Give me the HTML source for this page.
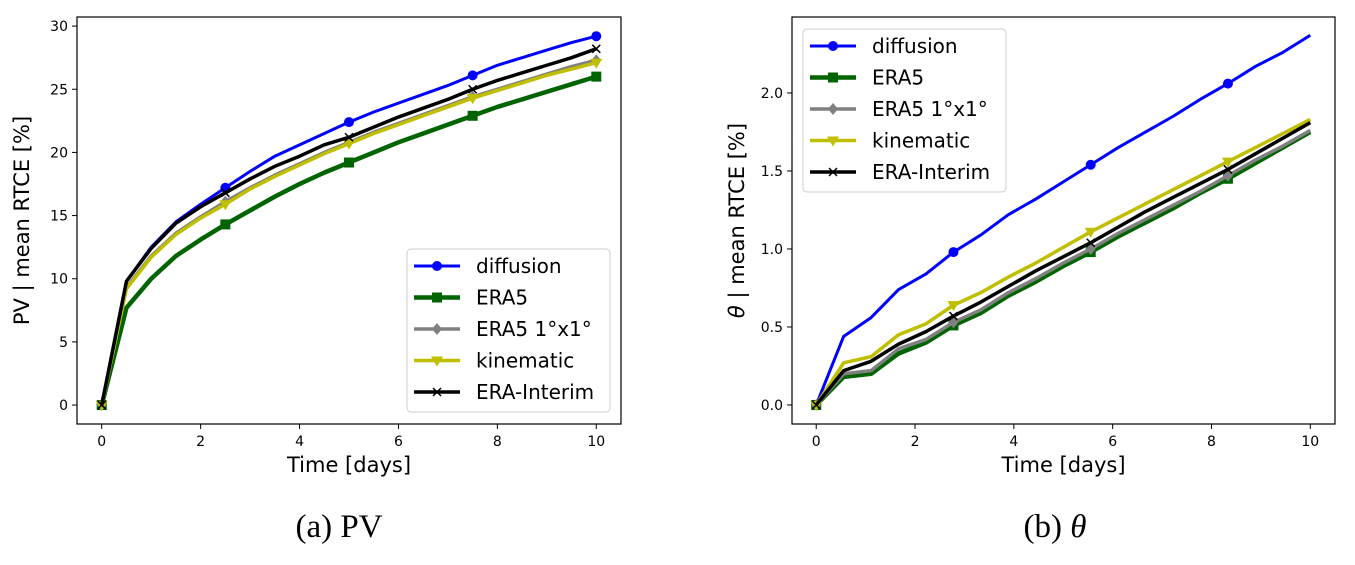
<!DOCTYPE html>
<html><head><meta charset="utf-8"><style>
body{margin:0;background:#fff;width:1355px;height:565px;overflow:hidden}
svg{display:block}
text{font-family:"DejaVu Sans","Liberation Sans",sans-serif}
.cap{font-family:"Liberation Serif",serif;font-size:33px}
</style></head><body>
<svg id="fig" width="1355" height="565" xmlns="http://www.w3.org/2000/svg"></svg>
<script>
const pvX=[0,0.5,1,1.5,2,2.5,3,3.5,4,4.5,5,5.5,6,6.5,7,7.5,8,8.5,9,9.5,10];
const pvDiffusion=[0,9.8,12.5,14.5,15.9,17.2,18.5,19.7,20.6,21.5,22.4,23.2,23.9,24.6,25.3,26.1,26.9,27.5,28.1,28.7,29.2];
const pvEra5=[0,7.7,10.0,11.8,13.1,14.3,15.4,16.5,17.5,18.4,19.2,20.0,20.8,21.5,22.2,22.9,23.6,24.2,24.8,25.4,26.0];
const pvEra5Coarse=[0,9.3,11.8,13.6,14.9,16.1,17.2,18.2,19.1,20.0,20.8,21.6,22.3,23.0,23.7,24.4,25.0,25.6,26.2,26.8,27.3];
const pvKinematic=[0,9.2,11.7,13.5,14.8,15.9,17.1,18.1,19.0,19.9,20.7,21.5,22.2,22.9,23.6,24.3,24.9,25.5,26.1,26.6,27.1];
const pvEraInterim=[0,9.8,12.4,14.4,15.7,16.8,17.9,18.9,19.7,20.6,21.2,22.0,22.8,23.5,24.2,25.0,25.7,26.3,26.9,27.5,28.2];
const thX=[0,0.556,1.111,1.667,2.222,2.778,3.333,3.889,4.444,5,5.556,6.111,6.667,7.222,7.778,8.333,8.889,9.444,10];
const thDiffusion=[0,0.44,0.56,0.74,0.84,0.98,1.09,1.22,1.32,1.43,1.54,1.65,1.75,1.85,1.96,2.06,2.17,2.26,2.37];
const thEra5=[0,0.18,0.20,0.33,0.40,0.51,0.59,0.70,0.79,0.89,0.98,1.08,1.17,1.26,1.36,1.45,1.55,1.65,1.75];
const thEra5Coarse=[0,0.20,0.22,0.36,0.42,0.53,0.61,0.72,0.81,0.91,1.00,1.10,1.19,1.28,1.37,1.47,1.57,1.66,1.76];
const thKinematic=[0,0.27,0.31,0.45,0.52,0.64,0.72,0.82,0.91,1.01,1.11,1.20,1.29,1.38,1.47,1.56,1.65,1.74,1.83];
const thEraInterim=[0,0.22,0.28,0.39,0.47,0.57,0.66,0.76,0.86,0.95,1.04,1.14,1.24,1.33,1.42,1.51,1.61,1.71,1.81];
const xTicks=[0,2,4,6,8,10];
const pvYTicks=[0,5,10,15,20,25,30];
const thYTicks=[0,0.5,1.0,1.5,2.0];
const thYTickLabels=["0.0","0.5","1.0","1.5","2.0"];
const seriesNames=["diffusion","ERA5","ERA5 1°x1°","kinematic","ERA-Interim"];

const NS="http://www.w3.org/2000/svg";
const svg=document.getElementById('fig');
function el(tag,attrs,parent){const e=document.createElementNS(NS,tag);for(const k in attrs)e.setAttribute(k,attrs[k]);(parent||svg).appendChild(e);return e;}

const styles=[
 {c:'#0000ff',w:3,m:'o'},{c:'#006400',w:4.5,m:'s'},{c:'#808080',w:3.5,m:'d'},{c:'#bfbf00',w:3.5,m:'v'},{c:'#000000',w:3.5,m:'x'}];

function marker(g,type,x,y,c){
 let e;
 if(type==='o'){e=el('circle',{cx:x,cy:y,r:5,fill:c},g);}
 else if(type==='s'){e=el('rect',{x:x-5,y:y-5,width:10,height:10,fill:c},g);}
 else if(type==='d'){e=el('polygon',{points:`${x},${y-6} ${x+5},${y} ${x},${y+6} ${x-5},${y}`,fill:c},g);}
 else if(type==='v'){e=el('polygon',{points:`${x-6},${y-4} ${x+6},${y-4} ${x},${y+6}`,fill:c},g);}
 else {e=el('path',{d:`M${x-4},${y-4}L${x+4},${y+4}M${x-4},${y+4}L${x+4},${y-4}`,stroke:c,'stroke-width':1.5,fill:'none'},g);}
 
 
}

function chart(cfg){
 const {L,R,T,B,xmin,xmax,ymin,ymax,xs,series,yTicks,yLabels,markIdx,prefix,ylabel,legend}=cfg;
 const sx=v=>L+(v-xmin)/(xmax-xmin)*(R-L);
 const sy=v=>B-(v-ymin)/(ymax-ymin)*(B-T);
 const g=el('g',{});
 
 
 xTicks.forEach(t=>{
  el('line',{x1:sx(t),x2:sx(t),y1:B,y2:B+5,stroke:'#000'},g);
  const tx=el('text',{x:sx(t),y:B+22,'font-size':14,'text-anchor':'middle'},g);tx.textContent=t;
  
  
 });
 yTicks.forEach((t,i)=>{
  el('line',{x1:L-5,x2:L,y1:sy(t),y2:sy(t),stroke:'#000'},g);
  const tx=el('text',{x:L-9,y:sy(t)+5,'font-size':14,'text-anchor':'end'},g);tx.textContent=yLabels[i];
  
  
 });
 series.forEach((d,si)=>{
  const st=styles[si];
  const p=el('polyline',{points:d.map((v,i)=>sx(xs[i])+','+sy(v)).join(' '),fill:'none',stroke:st.c,'stroke-width':st.w,'stroke-linejoin':'round'},g);
  
  
  markIdx.forEach(i=>marker(g,st.m,sx(xs[i]),sy(d[i]),st.c));
 });
 el('rect',{x:L,y:T,width:R-L,height:B-T,fill:'none',stroke:'#000','stroke-width':1.2},g);
 const xl=el('text',{x:(L+R)/2,y:B+48,'font-size':21,'text-anchor':'middle'},g);xl.textContent='Time [days]';
 
 
 const yl=el('text',{x:0,y:0,'font-size':21,'text-anchor':'middle',transform:`translate(${L-48},${(T+B)/2}) rotate(-90)`},g);yl.innerHTML=ylabel;
 
 
 const lg=el('g',{},g);
 
 
 el('rect',{x:legend.x,y:legend.y,width:203,height:163,rx:4,fill:'#fff','fill-opacity':0.85,stroke:'#ccc'},lg);
 seriesNames.forEach((n,i)=>{
  const y=legend.y+17+i*31.5, st=styles[i];
  el('line',{x1:legend.x+7,x2:legend.x+53,y1:y,y2:y,stroke:st.c,'stroke-width':st.w},lg);
  marker(lg,st.m,legend.x+30,y,st.c);
  const t=el('text',{x:legend.x+69,y:y+7,'font-size':20},lg);t.textContent=n;
  
  
 });
}

chart({L:77,R:621,T:17,B:424,xmin:-0.5,xmax:10.5,ymin:-1.5,ymax:30.72,xs:pvX,
 series:[pvDiffusion,pvEra5,pvEra5Coarse,pvKinematic,pvEraInterim],yTicks:pvYTicks,yLabels:pvYTicks,
 markIdx:[0,5,10,15,20],prefix:'pv',ylabel:'PV | mean RTCE [%]',legend:{x:407,y:249}});
chart({L:792,R:1335,T:17,B:424,xmin:-0.49,xmax:10.5,ymin:-0.122,ymax:2.487,xs:thX,
 series:[thDiffusion,thEra5,thEra5Coarse,thKinematic,thEraInterim],yTicks:thYTicks,yLabels:thYTickLabels,
 markIdx:[0,5,10,15],prefix:'theta',ylabel:'<tspan font-style="italic">θ</tspan> | mean RTCE [%]',legend:{x:803,y:29}});
</script>
<svg style="position:absolute;left:0;top:0" width="1355" height="565">
<text class="cap" x="339" y="537" text-anchor="middle">(a) PV</text>
<text class="cap" x="1055" y="537" text-anchor="middle">(b) <tspan font-style="italic">θ</tspan></text>
</svg>
</body></html>
